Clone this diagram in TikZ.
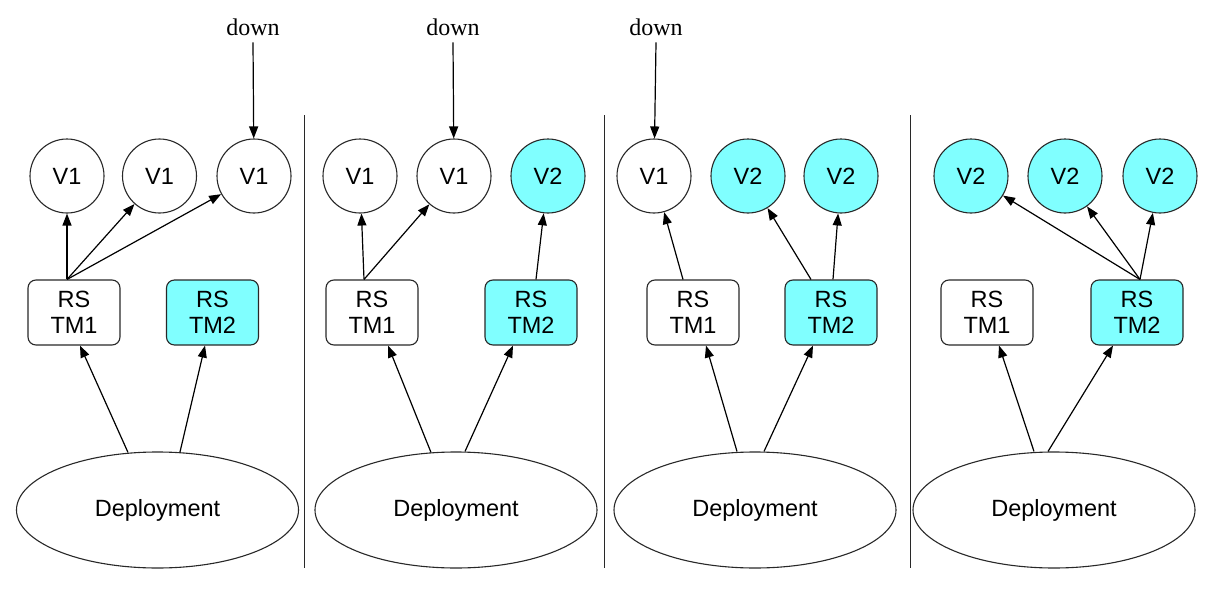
\documentclass[tikz,border=0pt]{standalone}
\usepackage{fontspec}
\newfontfamily\labfont{Liberation Sans}
\newfontfamily\notefont{Liberation Serif}
\usetikzlibrary{arrows.meta,shapes.geometric}
\definecolor{newver}{RGB}{128,255,255}
\definecolor{edge}{RGB}{40,40,40}
\begin{document}
\begin{tikzpicture}[x=1pt,y=-1pt,
  pod/.style={circle,draw=edge,line width=1.1pt,minimum size=74pt,inner sep=0pt,
    font=\labfont\fontsize{23.5}{26}\selectfont},
  oldpod/.style={pod,fill=white},
  newpod/.style={pod,fill=newver},
  rsbox/.style={rectangle,rounded corners=8pt,draw=edge,line width=1.1pt,
    minimum width=92pt,minimum height=65pt,inner sep=0pt,align=center,
    font=\labfont\fontsize{23.5}{26}\selectfont},
  oldrs/.style={rsbox,fill=white},
  newrs/.style={rsbox,fill=newver},
  deploy/.style={ellipse,draw=edge,line width=1.1pt,minimum width=282pt,
    minimum height=116pt,inner sep=0pt,font=\labfont\fontsize{23.5}{26}\selectfont},
  downlabel/.style={inner sep=0pt,anchor=base,font=\notefont\fontsize{24}{26}\selectfont},
  arr/.style={-{Triangle[length=12pt,width=9pt]},line width=1.2pt},
  divider/.style={draw=edge,line width=1.5pt}]
\useasboundingbox (0,0) rectangle (1219,597);

% ---- stage 1 ----
\node[oldpod] (a1) at (67,176) {V1};
\node[oldpod] (a2) at (159.5,176) {V1};
\node[oldpod] (a3) at (254,176) {V1};
\node[oldrs] (ar1) at (74,312.5) {RS\\TM1};
\node[newrs] (ar2) at (212.5,312.5) {RS\\TM2};
\node[deploy] (ad) at (157.5,510) {Deployment};
\node[downlabel] (adown) at (253,35) {down};
\draw[arr] ([yshift=-7pt]adown.south) -- (a3);
\draw[arr] ([xshift=-7pt]ar1.north) -- (a1);
\draw[arr] ([xshift=-7pt]ar1.north) -- (a2);
\draw[arr] ([xshift=-7pt]ar1.north) -- (a3);
\draw[arr] ([xshift=-29.5pt,yshift=-1pt]ad.north) -- ([xshift=6pt]ar1.south);
\draw[arr] ([xshift=22.5pt,yshift=-0.5pt]ad.north) -- ([xshift=-7.5pt]ar2.south);

% ---- stage 2 ----
\node[oldpod] (b1) at (360,176) {V1};
\node[oldpod] (b2) at (454,176) {V1};
\node[newpod] (b3) at (548,176) {V2};
\node[oldrs] (br1) at (372,312.5) {RS\\TM1};
\node[newrs] (br2) at (531,312.5) {RS\\TM2};
\node[deploy] (bd) at (456,510) {Deployment};
\node[downlabel] (bdown) at (453,35) {down};
\draw[arr] ([yshift=-7pt]bdown.south) -- (b2);
\draw[arr] ([xshift=-8pt]br1.north) -- (b1);
\draw[arr] ([xshift=-8pt]br1.north) -- (b2);
\draw[arr] ([xshift=5pt]br2.north) -- (b3);
\draw[arr] ([xshift=-25pt,yshift=-1pt]bd.north) -- ([xshift=16pt]br1.south);
\draw[arr] ([xshift=9pt]bd.north) -- ([xshift=-18pt]br2.south);

% ---- stage 3 ----
\node[oldpod] (c1) at (654,176) {V1};
\node[newpod] (c2) at (748,176) {V2};
\node[newpod] (c3) at (841,176) {V2};
\node[oldrs] (cr1) at (693,312.5) {RS\\TM1};
\node[newrs] (cr2) at (831,312.5) {RS\\TM2};
\node[deploy] (cd) at (755,510) {Deployment};
\node[downlabel] (cdown) at (656,35) {down};
\draw[arr] ([yshift=-7pt]cdown.south) -- (c1);
\draw[arr] ([xshift=-10pt]cr1.north) -- (c1);
\draw[arr] ([xshift=-20pt]cr2.north) -- (c2);
\draw[arr] ([xshift=2pt]cr2.north) -- (c3);
\draw[arr] ([xshift=-18pt]cd.north) -- ([xshift=13pt]cr1.south);
\draw[arr] ([xshift=9pt]cd.north) -- ([xshift=-18pt]cr2.south);

% ---- stage 4 ----
\node[newpod] (d1) at (971,176) {V2};
\node[newpod] (d2) at (1065,176) {V2};
\node[newpod] (d3) at (1160,176) {V2};
\node[oldrs] (dr1) at (987,312.5) {RS\\TM1};
\node[newrs] (dr2) at (1137,312.5) {RS\\TM2};
\node[deploy] (dd) at (1054,510) {Deployment};
\draw[arr] ([xshift=3pt]dr2.north) -- (d1);
\draw[arr] ([xshift=3pt]dr2.north) -- (d2);
\draw[arr] ([xshift=3pt]dr2.north) -- (d3);
\draw[arr] ([xshift=-20pt]dd.north) -- ([xshift=12pt]dr1.south);
\draw[arr] ([xshift=-6pt]dd.north) -- ([xshift=-24pt]dr2.south);

% ---- separators between stages ----
\coordinate (s1t) at (304.5,115); \coordinate (s1b) at (304.5,568);
\coordinate (s2t) at (604.5,115); \coordinate (s2b) at (604.5,568);
\coordinate (s3t) at (910.5,115); \coordinate (s3b) at (910.5,568);
\draw[divider] (s1t) -- (s1b);
\draw[divider] (s2t) -- (s2b);
\draw[divider] (s3t) -- (s3b);
\end{tikzpicture}
\end{document}
